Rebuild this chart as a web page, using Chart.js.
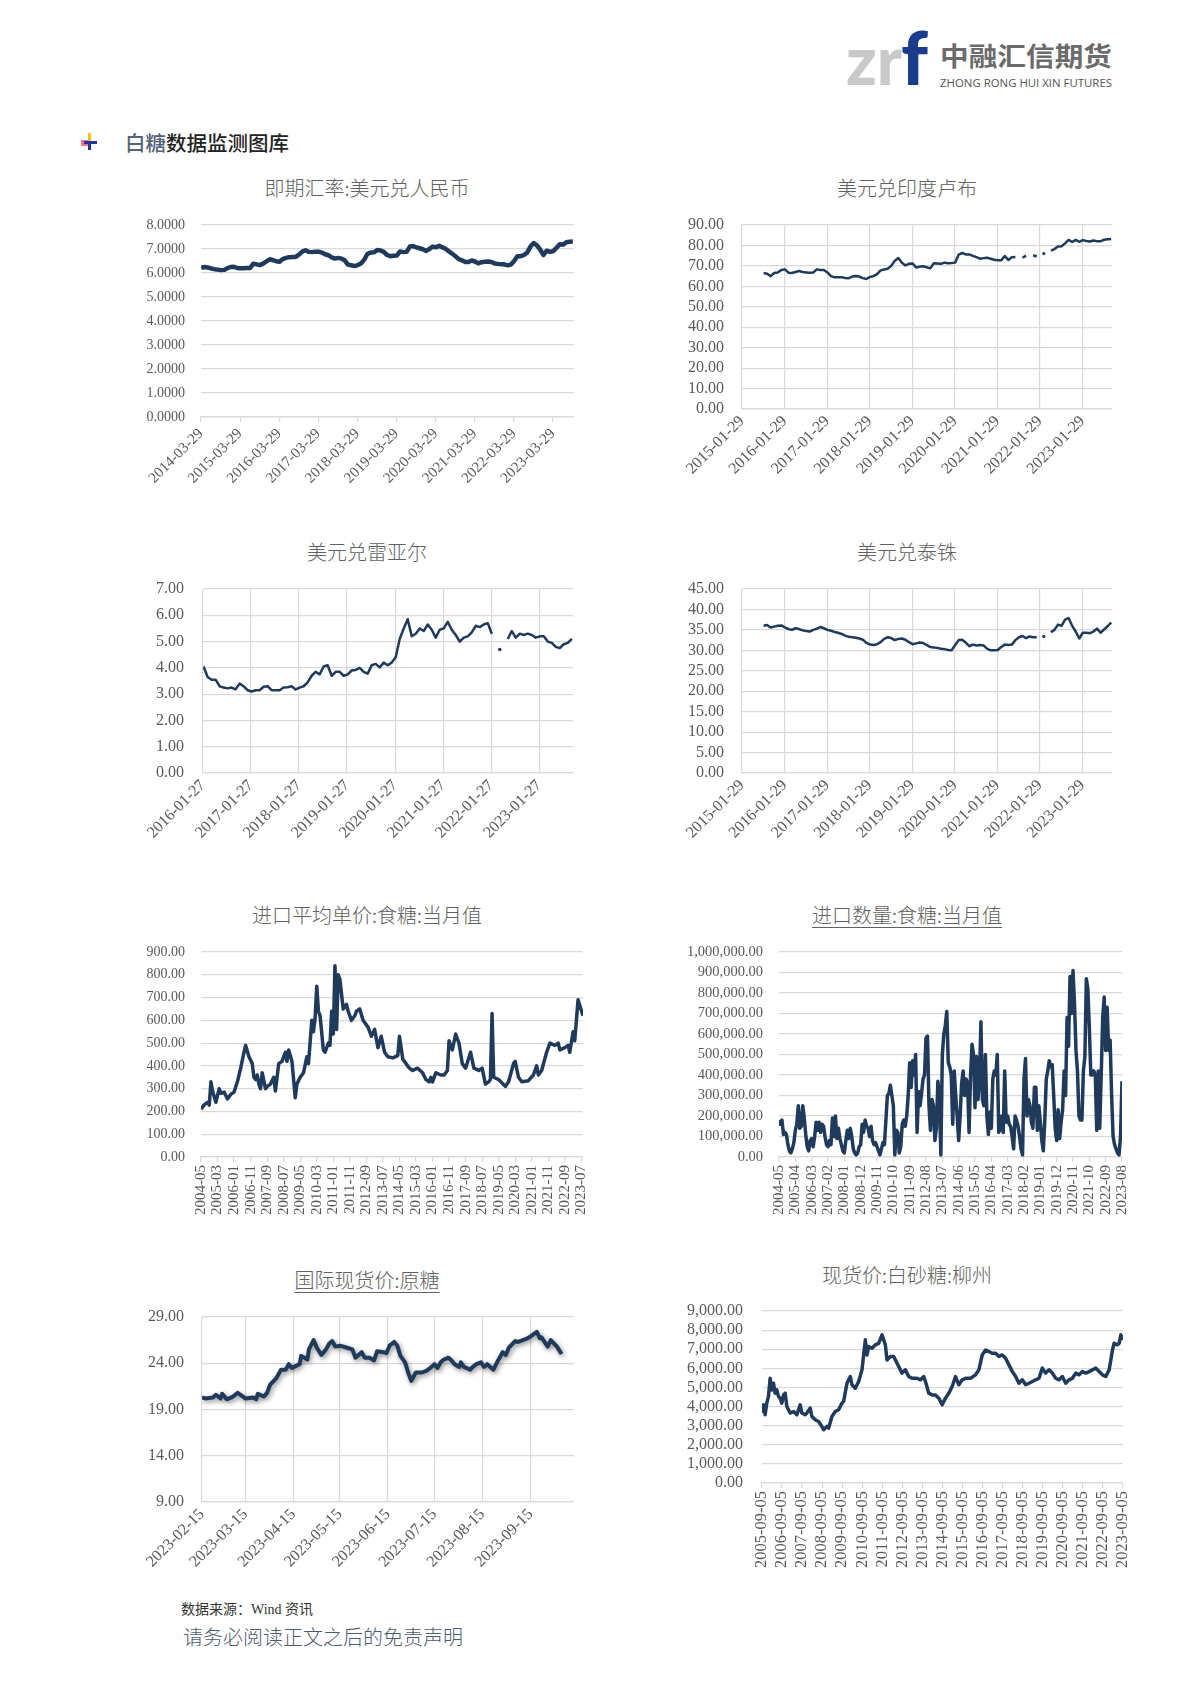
<!DOCTYPE html>
<html lang="zh-CN">
<head>
<meta charset="utf-8">
<title>白糖数据监测图库</title>
<script src="https://cdn.jsdelivr.net/npm/chart.js@4.4.1/dist/chart.umd.min.js"></script>
<style>
  html, body { margin: 0; padding: 0; background: #fff; }
  body { position: relative; width: 1190px; height: 1683px; overflow: hidden; font-family: "Noto Sans CJK SC", sans-serif; }
  canvas { position: absolute; }
  .ttl { position: absolute; transform: translateX(-50%); white-space: nowrap; font-size: 20px; line-height: 20px; color: #616161; font-weight: 300; }
  .ttl.u { text-decoration: underline; text-underline-offset: 4px; text-decoration-thickness: 1px; }
  .abs { position: absolute; white-space: nowrap; }
</style>
</head>
<body>

<!-- logo -->
<svg class="abs" style="left:830px;top:20px" width="300" height="80">
  <text x="16" y="65" font-family="Lato" font-weight="900" font-size="68" fill="#c9c9c9" textLength="56" lengthAdjust="spacingAndGlyphs">zr</text>
  <text x="71" y="65" font-family="Lato" font-weight="900" font-size="74" fill="#1b3c8c" textLength="27" lengthAdjust="spacingAndGlyphs">f</text>
  <text x="110" y="46" font-family="Noto Sans CJK SC" font-weight="700" font-size="26" fill="#6b6b6b" textLength="172" lengthAdjust="spacingAndGlyphs">中融汇信期货</text>
  <text x="110" y="67" font-family="Open Sans" font-size="11" fill="#555" textLength="172" lengthAdjust="spacingAndGlyphs">ZHONG RONG HUI XIN FUTURES</text>
</svg>

<!-- heading -->
<svg class="abs" style="left:79px;top:132px" width="22" height="20">
  <rect x="9" y="1" width="3" height="9" fill="#f2c21b"/>
  <rect x="2" y="8" width="7" height="6" fill="#e8486b" opacity="0.75"/>
  <rect x="5" y="9" width="13" height="3" fill="#2a2f9a"/>
  <rect x="9" y="9" width="3" height="9" fill="#2a2f9a"/>
</svg>
<div class="abs" style="left:125px;top:130px;font-size:20.5px;line-height:24px;color:#222;font-weight:500"><span style="color:#55627a">白糖</span>数据监测图库</div>

<!-- titles -->
<div class="ttl" style="left:367px;top:178px">即期汇率:美元兑人民币</div>
<div class="ttl" style="left:907px;top:178px">美元兑印度卢布</div>
<div class="ttl" style="left:367px;top:542px">美元兑雷亚尔</div>
<div class="ttl" style="left:907px;top:542px">美元兑泰铢</div>
<div class="ttl" style="left:367px;top:905px">进口平均单价:食糖:当月值</div>
<div class="ttl u" style="left:907px;top:905px">进口数量:食糖:当月值</div>
<div class="ttl u" style="left:367px;top:1270px">国际现货价:原糖</div>
<div class="ttl" style="left:907px;top:1265px">现货价:白砂糖:柳州</div>

<canvas id="cny"></canvas>
<canvas id="inr"></canvas>
<canvas id="brl"></canvas>
<canvas id="thb"></canvas>
<canvas id="price"></canvas>
<canvas id="qty"></canvas>
<canvas id="raw"></canvas>
<canvas id="lz"></canvas>

<!-- footer -->
<div class="abs" style="left:181px;top:1601px;font-size:14px;line-height:18px;color:#333;font-family:'Liberation Serif','Noto Sans CJK SC',serif">数据来源：Wind 资讯</div>
<div class="abs" style="left:183px;top:1626px;font-size:20px;line-height:22px;color:#4d5b70;font-weight:300">请务必阅读正文之后的免责声明</div>

<script>
// ---- data ----
// 即期汇率:美元兑人民币, monthly from 2014-04
const cnyStart = '2014-04';
const cnyValues = [
  6.22, 6.25, 6.23, 6.19, 6.16, 6.14, 6.12, 6.13, 6.20,
  6.25, 6.26, 6.21, 6.20, 6.20, 6.21, 6.21, 6.39, 6.36, 6.33, 6.39, 6.48,
  6.57, 6.54, 6.49, 6.47, 6.58, 6.63, 6.66, 6.67, 6.67, 6.77, 6.89, 6.95,
  6.88, 6.87, 6.89, 6.89, 6.85, 6.78, 6.74, 6.65, 6.60, 6.63, 6.60, 6.53,
  6.35, 6.32, 6.29, 6.33, 6.40, 6.55, 6.80, 6.85, 6.86, 6.96, 6.94, 6.88,
  6.75, 6.70, 6.72, 6.73, 6.90, 6.87, 6.88, 7.10, 7.12, 7.07, 7.03, 6.99,
  6.92, 7.00, 7.10, 7.07, 7.13, 7.07, 7.00, 6.90, 6.80, 6.70, 6.58, 6.53,
  6.46, 6.46, 6.52, 6.48, 6.40, 6.45, 6.47, 6.48, 6.46, 6.40, 6.38, 6.36,
  6.36, 6.32, 6.35, 6.50, 6.70, 6.70, 6.75, 6.85, 7.10, 7.25, 7.15, 6.97,
  6.75, 6.93, 6.88, 6.91, 7.05, 7.20, 7.18, 7.28, 7.30, 7.31
];
const cnyTicks = ['2014-03-29','2015-03-29','2016-03-29','2017-03-29','2018-03-29',
  '2019-03-29','2020-03-29','2021-03-29','2022-03-29','2023-03-29'];

// 美元兑印度卢布, monthly from 2015-08 (null = no data)
const inrStart = '2015-08';
const inrValues = [
  66.5, 66.2, 65.0, 66.5, 66.8,
  68.0, 68.3, 66.7, 66.5, 67.0, 67.5, 67.0, 66.8, 66.6, 66.8, 68.3, 68.0,
  68.0, 66.8, 65.0, 64.4, 64.5, 64.5, 64.1, 64.0, 64.8, 65.0, 64.8, 64.0,
  63.6, 64.6, 65.0, 66.0, 67.8, 68.2, 68.6, 70.0, 72.5, 73.8, 71.5, 70.2,
  71.0, 71.2, 69.2, 69.6, 69.8, 69.3, 68.8, 71.3, 71.2, 71.0, 71.6, 71.3,
  71.4, 71.6, 75.5, 76.3, 75.6, 75.6, 74.9, 74.3, 73.5, 73.8, 74.0, 73.5,
  73.0, 72.8, 72.7, 74.8, 72.9, 74.2, 74.4, null, 74.0, 75.0, null, 75.2,
  74.6, null, 76.0, null, 77.5, 78.2, 79.5, 79.6, 81.0, 82.7, 81.7, 82.7,
  81.8, 82.6, 82.2, 81.9, 82.4, 82.1, 82.0, 82.8, 83.0, 83.2
];
// 美元兑泰铢, monthly from 2015-08
const thbStart = '2015-08';
const thbValues = [
  36.0, 36.2, 35.6, 35.8, 36.0,
  36.1, 35.6, 35.2, 35.0, 35.4, 35.2, 34.9, 34.7, 34.6, 35.0, 35.3, 35.7,
  35.4, 35.0, 34.8, 34.5, 34.3, 34.0, 33.6, 33.3, 33.2, 33.1, 32.9, 32.6,
  31.8, 31.4, 31.3, 31.5, 32.0, 32.8, 33.2, 33.0, 32.5, 32.8, 32.9, 32.6,
  32.0, 31.5, 31.7, 31.9, 31.8, 31.3, 30.8, 30.7, 30.6, 30.4, 30.3, 30.1,
  30.0, 31.3, 32.5, 32.6, 31.9, 31.0, 31.4, 31.2, 31.3, 31.2, 30.4, 30.0,
  30.0, 30.1, 30.8, 31.4, 31.3, 31.4, 32.5, 33.2, 33.5, 33.0, 33.4, 33.2,
  33.2, null, 33.4, null, 34.4, 35.0, 36.3, 36.0, 37.5, 37.9, 36.0, 34.6,
  32.9, 34.3, 34.3, 34.2, 34.6, 35.3, 34.3, 35.1, 35.9, 36.8
];
const inrTicks = ['2015-01-29','2016-01-29','2017-01-29','2018-01-29','2019-01-29',
  '2020-01-29','2021-01-29','2022-01-29','2023-01-29'];

// 美元兑雷亚尔, monthly from 2016-02
const brlStart = '2016-02';
const brlValues = [
  4.05, 3.65, 3.55, 3.55, 3.30, 3.25, 3.22, 3.25, 3.18, 3.40, 3.30,
  3.15, 3.10, 3.15, 3.15, 3.28, 3.30, 3.15, 3.15, 3.15, 3.25, 3.26, 3.30,
  3.18, 3.25, 3.30, 3.45, 3.70, 3.85, 3.75, 4.05, 4.10, 3.70, 3.85, 3.85,
  3.70, 3.75, 3.90, 3.92, 4.00, 3.85, 3.78, 4.10, 4.15, 4.02, 4.20, 4.10,
  4.20, 4.40, 5.10, 5.50, 5.85, 5.20, 5.30, 5.50, 5.40, 5.65, 5.45, 5.15,
  5.45, 5.50, 5.75, 5.45, 5.25, 5.00, 5.15, 5.20, 5.35, 5.60, 5.55, 5.65,
  5.70, 5.30, null, 4.70, null, 5.10, 5.40, 5.15, 5.30, 5.25, 5.30, 5.25,
  5.15, 5.20, 5.20, 5.00, 4.95, 4.80, 4.75, 4.90, 4.95, 5.10
];
const brlTicks = ['2016-01-27','2017-01-27','2018-01-27','2019-01-27','2020-01-27',
  '2021-01-27','2022-01-27','2023-01-27'];

// 进口平均单价:食糖:当月值
const priceMonths = [
  '2004-05','2004-07','2004-09','2004-10','2004-11','2004-12',
  '2005-02','2005-04','2005-05','2005-07','2005-09','2005-11',
  '2006-01','2006-03','2006-05','2006-07','2006-08','2006-10','2006-12',
  '2007-01','2007-02','2007-03','2007-04','2007-05','2007-06','2007-08','2007-09','2007-11',
  '2008-01','2008-02','2008-04','2008-06','2008-08','2008-09','2008-10','2008-12',
  '2009-02','2009-03','2009-05','2009-07','2009-09','2009-10','2009-12',
  '2010-01','2010-02','2010-03','2010-04','2010-05','2010-07','2010-08','2010-10','2010-11','2010-12',
  '2011-01','2011-02','2011-03','2011-04','2011-05','2011-07','2011-09','2011-10','2011-12',
  '2012-02','2012-03','2012-05','2012-07','2012-09','2012-10','2012-12',
  '2013-02','2013-04','2013-06','2013-08','2013-10',
  '2014-01','2014-04','2014-05','2014-07','2014-09','2014-11',
  '2015-01','2015-04','2015-07','2015-09','2015-11','2015-12',
  '2016-01','2016-03','2016-06','2016-08','2016-10','2016-11',
  '2017-01','2017-03','2017-05','2017-07','2017-09','2017-12',
  '2018-02','2018-05','2018-07','2018-09','2018-11','2018-12',
  '2019-01','2019-02','2019-05','2019-09','2019-11',
  '2020-02','2020-03','2020-05','2020-07','2020-11',
  '2021-02','2021-04','2021-05','2021-07','2021-10','2021-12',
  '2022-03','2022-05','2022-06','2022-09','2022-11','2022-12',
  '2023-02','2023-03','2023-05','2023-08'
];
const priceValues = [
  210, 230, 240, 228, 330, 290,
  240, 300, 280, 285, 255, 275,
  285, 330, 390, 460, 490, 440, 410,
  350, 340, 360, 320, 300, 370, 300, 310, 320,
  350, 290, 410, 420, 460, 420, 470, 420,
  260, 320, 350, 370, 440, 410, 600,
  550, 610, 750, 640, 620, 470, 460, 500, 490, 640,
  540, 840, 560, 800, 780, 650, 670, 640, 600,
  620, 640, 650, 600, 580, 570, 530,
  560, 480, 530, 460, 440,
  435, 445, 530, 430, 410, 390,
  380, 390, 370, 340, 330, 350,
  330, 370, 360, 360, 380, 510,
  470, 540, 500, 410, 390, 460,
  390, 380, 390, 320, 330, 340,
  630, 350, 340, 310, 330,
  410, 420, 350, 330, 335,
  360, 400, 360, 380, 460, 500,
  490, 500, 470, 480, 490, 460,
  550, 510, 690, 620
];
const priceTicks = ['2004-05','2005-03','2006-01','2006-11','2007-09','2008-07','2009-05','2010-03',
  '2011-01','2011-11','2012-09','2013-07','2014-05','2015-03','2016-01','2016-11','2017-09',
  '2018-07','2019-05','2020-03','2021-01','2021-11','2022-09','2023-07'];

// 进口数量:食糖:当月值, monthly from 2004-05 (tonnes)
const qtyStart = '2004-05';
const qtyValues = [
  180000,160000,180000,110000,120000,110000,60000,30000,20000,40000,
  70000,130000,160000,250000,140000,150000,250000,190000,110000,50000,
  30000,80000,90000,50000,100000,170000,130000,170000,120000,160000,
  150000,100000,60000,50000,80000,60000,190000,100000,200000,90000,
  140000,90000,60000,30000,20000,80000,130000,90000,140000,100000,
  40000,20000,10000,20000,50000,60000,160000,120000,180000,150000,
  140000,100000,150000,80000,60000,70000,50000,30000,10000,40000,
  70000,60000,180000,300000,310000,350000,300000,250000,10000,130000,
  120000,20000,50000,160000,180000,150000,200000,300000,460000,340000,
  470000,400000,500000,120000,320000,250000,310000,380000,400000,580000,
  590000,250000,130000,280000,250000,80000,140000,370000,300000,10000,
  500000,600000,640000,710000,460000,440000,400000,160000,420000,300000,
  200000,80000,200000,360000,420000,300000,380000,360000,120000,400000,
  550000,500000,240000,490000,280000,380000,660000,280000,250000,500000,
  200000,110000,220000,140000,380000,420000,400000,500000,120000,140000,
  200000,120000,420000,170000,200000,160000,150000,100000,40000,200000,
  180000,150000,100000,40000,10000,380000,480000,200000,280000,250000,
  170000,140000,340000,340000,130000,250000,170000,80000,30000,180000,
  380000,420000,470000,440000,450000,300000,140000,80000,230000,90000,
  170000,230000,420000,300000,680000,540000,880000,700000,910000,750000,
  520000,420000,200000,180000,180000,420000,490000,870000,820000,630000,
  400000,400000,420000,400000,130000,420000,140000,400000,680000,780000,
  520000,730000,520000,570000,300000,100000,60000,40000,20000,10000,
  100000,370000
];
const qtyTicks = ['2004-05','2005-04','2006-03','2007-02','2008-01','2008-12','2009-11','2010-10',
  '2011-09','2012-08','2013-07','2014-06','2015-05','2016-04','2017-03','2018-02','2019-01',
  '2019-12','2020-11','2021-10','2022-09','2023-08'];

// 国际现货价:原糖
const rawDates = [
  '2023-02-15','2023-02-17','2023-02-22','2023-02-24','2023-02-27','2023-02-28','2023-03-03','2023-03-07',
  '2023-03-10','2023-03-15','2023-03-20','2023-03-22','2023-03-23','2023-03-27','2023-03-29','2023-03-31',
  '2023-04-04','2023-04-07','2023-04-10','2023-04-12','2023-04-14','2023-04-19','2023-04-20','2023-04-24',
  '2023-04-25','2023-04-28','2023-04-30','2023-05-03','2023-05-06','2023-05-08','2023-05-10','2023-05-12',
  '2023-05-15','2023-05-19','2023-05-23','2023-05-25','2023-05-29','2023-05-31','2023-06-03','2023-06-06',
  '2023-06-08','2023-06-12','2023-06-14','2023-06-16','2023-06-19','2023-06-21','2023-06-23','2023-06-26',
  '2023-06-28','2023-06-30','2023-07-03','2023-07-07','2023-07-10','2023-07-13','2023-07-15','2023-07-17',
  '2023-07-19','2023-07-21','2023-07-24','2023-07-26','2023-07-28','2023-07-31','2023-08-01','2023-08-03',
  '2023-08-07','2023-08-08','2023-08-11','2023-08-14','2023-08-16','2023-08-18','2023-08-22','2023-08-25',
  '2023-08-28','2023-08-30','2023-09-01','2023-09-05','2023-09-07','2023-09-10','2023-09-13','2023-09-15',
  '2023-09-19','2023-09-21','2023-09-22','2023-09-26','2023-09-28','2023-10-02','2023-10-05'
];
const rawValues = [
  20.3, 20.2, 20.3, 20.6, 20.2, 20.7, 20.1, 20.4, 20.8, 20.2,
  20.3, 20.1, 20.7, 20.4, 20.8, 21.7, 22.4, 23.3, 23.3, 23.9,
  23.5, 23.9, 24.8, 24.4, 25.5, 26.5, 25.7, 24.9, 25.5, 26.1,
  26.4, 25.8, 25.9, 25.7, 25.5, 24.6, 25.2, 24.6, 24.6, 24.3,
  25.3, 25.2, 25.1, 25.9, 26.3, 25.9, 24.8, 24.1, 23.0, 22.1,
  23.0, 23.0, 23.2, 23.6, 23.9, 23.5, 24.1, 24.4, 24.6, 24.3,
  23.9, 23.6, 24.1, 23.6, 23.3, 23.5, 23.9, 24.1, 23.6, 23.9,
  23.3, 24.3, 25.2, 24.9, 25.7, 26.4, 26.3, 26.5, 26.7, 26.9,
  27.4, 26.7, 26.8, 25.8, 26.5, 25.8, 25.0
];
const rawTicks = ['2023-02-15','2023-03-15','2023-04-15','2023-05-15','2023-06-15',
  '2023-07-15','2023-08-15','2023-09-15'];

// 现货价:白砂糖:柳州
const lzDates = [
  '2005-09-05','2005-10','2005-11','2005-12',
  '2006-01','2006-02','2006-03','2006-04','2006-05','2006-06','2006-07','2006-08','2006-09','2006-10','2006-11','2006-12',
  '2007-01','2007-02','2007-04','2007-06','2007-08','2007-09','2007-11','2007-12',
  '2008-02','2008-03','2008-05','2008-07','2008-09','2008-10','2008-12',
  '2009-01','2009-03','2009-05','2009-07','2009-09','2009-10','2009-12',
  '2010-02','2010-03','2010-05','2010-07','2010-09','2010-11','2010-12',
  '2011-01','2011-03','2011-05','2011-07','2011-09','2011-11','2011-12',
  '2012-02','2012-04','2012-06','2012-08','2012-09','2012-11',
  '2013-01','2013-03','2013-06','2013-08','2013-10','2013-11',
  '2014-01','2014-03','2014-05','2014-07','2014-09','2014-11',
  '2015-01','2015-03','2015-05','2015-07','2015-09','2015-11',
  '2016-02','2016-05','2016-07','2016-09','2016-11',
  '2017-01','2017-03','2017-05','2017-07','2017-09','2017-11',
  '2018-01','2018-03','2018-05','2018-07','2018-09','2018-11',
  '2019-01','2019-03','2019-05','2019-07','2019-09','2019-11',
  '2020-01','2020-03','2020-05','2020-07','2020-09','2020-11',
  '2021-01','2021-03','2021-05','2021-07','2021-09','2021-11',
  '2022-01','2022-03','2022-05','2022-07','2022-09','2022-11',
  '2023-01','2023-03','2023-04','2023-06','2023-07','2023-08','2023-09-08'
];
const lzValues = [
  3660, 4090, 3570, 4180,
  4530, 5480, 4870, 5220, 4700, 4870, 4530, 4440, 4180, 4610, 4700, 4000,
  3830, 3660, 3740, 3570, 4090, 3660, 3570, 3660,
  3920, 3480, 3310, 3220, 2960, 2790, 2960,
  2870, 3480, 3740, 3830, 4180, 4270, 5220,
  5570, 5140, 4960, 5310, 5920, 7490, 6700,
  7140, 7050, 7230, 7310, 7750, 7230, 6440,
  6620, 6620, 6270, 5920, 5750, 5920,
  5570, 5480, 5480, 5400, 5570, 5310,
  4700, 4610, 4610, 4440, 4090, 4440,
  4700, 5050, 5570, 5140, 5400, 5480,
  5480, 5660, 5920, 6700, 6960,
  6880, 6790, 6790, 6620, 6700, 6530,
  6180, 5830, 5570, 5220, 5400, 5140,
  5220, 5310, 5400, 5480, 6010, 5750,
  5920, 5750, 5480, 5400, 5570, 5220,
  5400, 5480, 5750, 5660, 5830, 5750,
  5830, 5920, 6010, 5830, 5660, 5570,
  5920, 6960, 7310, 7230, 7310, 7750, 7490
];
const lzTicks = ['2005-09-05','2006-09-05','2007-09-05','2008-09-05','2009-09-05','2010-09-05',
  '2011-09-05','2012-09-05','2013-09-05','2014-09-05','2015-09-05','2016-09-05','2017-09-05',
  '2018-09-05','2019-09-05','2020-09-05','2021-09-05','2022-09-05','2023-09-05'];

// ---- helpers ----
const SERIF = '"Liberation Serif", "DejaVu Serif", serif';
const GRID = '#d9d9d9';
const TXT = '#595959';
const LINE = '#1f3a5a';

Chart.defaults.font.family = SERIF;
Chart.defaults.color = TXT;

function parts(s) {
  const p = s.split('-').map(Number);
  return [p[0], p[1], p[2] || 1];
}
// fractional year
function toYear(s) {
  const [y, m, d] = parts(s);
  return y + (m - 1) / 12 + (d - 1) / 365;
}
// months since 2004-05
function toMonth(s) {
  const [y, m] = parts(s);
  return (y - 2004) * 12 + (m - 5);
}
// days since 2023-02-15
function toDay(s) {
  const [y, m, d] = parts(s);
  return (Date.UTC(y, m - 1, d) - Date.UTC(2023, 1, 15)) / 86400000;
}
function monthList(start, n) {
  let [y, m] = parts(start);
  const out = [];
  for (let i = 0; i < n; i++) {
    out.push(y + '-' + String(m).padStart(2, '0'));
    m++;
    if (m > 12) { m = 1; y++; }
  }
  return out;
}
function points(dates, values, conv) {
  return dates.map((d, i) => ({ x: conv(d), y: values[i] }));
}
// every step from min to max, used as the y tick positions
function yTickValues(min, max, step) {
  const out = [];
  for (let v = min; v <= max + step / 1000; v += step) out.push(Math.round(v * 1e6) / 1e6);
  return out;
}
const fmt2 = v => v.toLocaleString('en-US', { minimumFractionDigits: 2, maximumFractionDigits: 2 });
const fmt4 = v => v.toFixed(4);

// draw a dot for points that have no neighbour on either side
function dotRadius(r) {
  return ctx => {
    const d = ctx.dataset.data, i = ctx.dataIndex;
    const empty = p => !p || p.y === null;
    if (empty(d[i])) return 0;
    return empty(d[i - 1]) && empty(d[i + 1]) ? r : 0;
  };
}

const shadowPlugin = {
  id: 'lineShadow',
  beforeDatasetsDraw(chart) {
    const c = chart.ctx;
    c.save();
    c.shadowColor = 'rgba(0,0,0,0.45)';
    c.shadowBlur = 5;
    c.shadowOffsetX = 1.5;
    c.shadowOffsetY = 2;
  },
  afterDatasetsDraw(chart) { chart.ctx.restore(); }
};

// g: plot box in page pixels (l, r, t, b) plus y axis width and x axis height
function lineChart(id, g, o) {
  const pad = 12;
  const cv = document.getElementById(id);
  const w = g.yW + (g.r - g.l) + pad;
  const h = pad + (g.b - g.t) + g.xH;
  cv.width = w;
  cv.height = h;
  cv.style.left = (g.l - g.yW) + 'px';
  cv.style.top = (g.t - pad) + 'px';
  const tickVals = o.xLabels.map(o.conv);
  const yVals = yTickValues(o.y[0], o.y[1], o.y[2]);

  return new Chart(cv, {
    type: 'line',
    data: {
      datasets: [{
        data: o.data,
        borderColor: LINE,
        backgroundColor: LINE,
        borderWidth: o.lw,
        pointRadius: o.dot ? dotRadius(o.dot) : 0,
        pointBorderWidth: 0,
        pointBackgroundColor: LINE,
        tension: 0,
        spanGaps: false,
        fill: false,
        borderJoinStyle: 'round'
      }]
    },
    options: {
      responsive: false,
      animation: false,
      events: [],
      layout: { padding: { top: pad, right: pad, left: 0, bottom: 0 } },
      plugins: { legend: { display: false }, tooltip: { enabled: false } },
      scales: {
        x: {
          type: 'linear',
          min: o.conv(o.xRange[0]),
          max: o.conv(o.xRange[1]),
          afterBuildTicks: s => { s.ticks = tickVals.map(v => ({ value: v })); },
          afterFit: s => { s.height = g.xH; s.paddingLeft = 0; s.paddingRight = 0; },
          grid: {
            color: GRID, tickColor: GRID, lineWidth: 1.2,
            drawOnChartArea: o.vGrid, drawTicks: !o.vGrid, tickLength: 5
          },
          border: { display: true, color: GRID, width: 1.2 },
          ticks: {
            autoSkip: false,
            minRotation: o.rot, maxRotation: o.rot,
            padding: 3,
            color: TXT,
            font: { family: SERIF, size: o.xFont },
            callback: (v, i) => o.xLabels[i]
          }
        },
        y: {
          min: o.y[0], max: o.y[1],
          afterBuildTicks: s => { s.ticks = yVals.map(v => ({ value: v })); },
          afterFit: s => { s.width = g.yW; s.paddingTop = 0; s.paddingBottom = 0; },
          grid: { color: GRID, lineWidth: 1.2, drawTicks: false },
          border: { display: false },
          ticks: {
            autoSkip: false,
            padding: o.yPad,
            color: TXT,
            font: { family: SERIF, size: o.yFont },
            callback: v => o.fmt(v)
          }
        }
      }
    },
    plugins: o.shadow ? [shadowPlugin] : []
  });
}

// ---- charts ----
lineChart('cny', { l: 201, r: 574, t: 225, b: 417, yW: 80, xH: 80 }, {
  data: points(monthList(cnyStart, cnyValues.length), cnyValues, toYear),
  conv: toYear, xRange: ['2014-03-29', '2023-10-12'], xLabels: cnyTicks,
  rot: 45, xFont: 15, vGrid: false, y: [0, 8, 1], fmt: fmt4, yFont: 14, yPad: 16, lw: 4.5
});

lineChart('inr', { l: 742, r: 1112, t: 225, b: 409, yW: 80, xH: 85 }, {
  data: points(monthList(inrStart, inrValues.length), inrValues, toYear),
  conv: toYear, xRange: ['2015-01-29', '2023-10-08'], xLabels: inrTicks,
  rot: 45, xFont: 16, vGrid: true, y: [0, 90, 10], fmt: fmt2, yFont: 16, yPad: 18, lw: 2.5, dot: 1.6
});

lineChart('brl', { l: 203, r: 573, t: 589, b: 773, yW: 80, xH: 85 }, {
  data: points(monthList(brlStart, brlValues.length), brlValues, toYear),
  conv: toYear, xRange: ['2016-01-27', '2023-10-10'], xLabels: brlTicks,
  rot: 45, xFont: 16, vGrid: true, y: [0, 7, 1], fmt: fmt2, yFont: 16, yPad: 19, lw: 2.5, dot: 1.8
});

lineChart('thb', { l: 742, r: 1112, t: 589, b: 773, yW: 80, xH: 85 }, {
  data: points(monthList(thbStart, thbValues.length), thbValues, toYear),
  conv: toYear, xRange: ['2015-01-29', '2023-10-08'], xLabels: inrTicks,
  rot: 45, xFont: 16, vGrid: true, y: [0, 45, 5], fmt: fmt2, yFont: 16, yPad: 18, lw: 2.5, dot: 1.6
});

lineChart('price', { l: 201, r: 583, t: 952, b: 1157, yW: 80, xH: 70 }, {
  data: points(priceMonths, priceValues, toMonth),
  conv: toMonth, xRange: ['2004-05', '2023-08'], xLabels: priceTicks,
  rot: 90, xFont: 15, vGrid: false, y: [0, 900, 100], fmt: fmt2, yFont: 14, yPad: 16, lw: 3.5
});

lineChart('qty', { l: 779, r: 1122, t: 952, b: 1157, yW: 100, xH: 70 }, {
  data: points(monthList(qtyStart, qtyValues.length), qtyValues, toMonth),
  conv: toMonth, xRange: ['2004-05', '2023-08'], xLabels: qtyTicks,
  rot: 90, xFont: 15, vGrid: false, y: [0, 1000000, 100000], fmt: fmt2, yFont: 14.5, yPad: 16, lw: 3.5
});

lineChart('raw', { l: 202, r: 574, t: 1317, b: 1502, yW: 80, xH: 85 }, {
  data: points(rawDates, rawValues, toDay),
  conv: toDay, xRange: ['2023-02-15', '2023-10-13'], xLabels: rawTicks,
  rot: 45, xFont: 16, vGrid: true, y: [9, 29, 5], fmt: fmt2, yFont: 16, yPad: 18, lw: 4, shadow: true
});

lineChart('lz', { l: 762, r: 1123, t: 1311, b: 1483, yW: 90, xH: 95 }, {
  data: points(lzDates, lzValues, toYear),
  conv: toYear, xRange: ['2005-09-05', '2023-09-10'], xLabels: lzTicks,
  rot: 90, xFont: 16.5, vGrid: false, y: [0, 9000, 1000], fmt: fmt2, yFont: 16, yPad: 19, lw: 3.5
});
</script>
</body>
</html>
